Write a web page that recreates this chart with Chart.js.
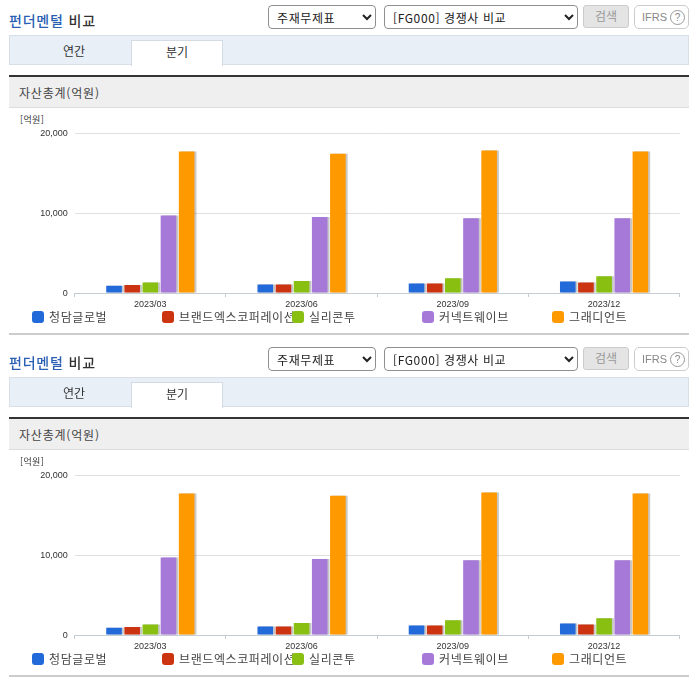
<!DOCTYPE html>
<html lang="ko">
<head>
<meta charset="utf-8">
<title>펀더멘털 비교</title>
<script src="https://cdn.jsdelivr.net/npm/chart.js@4"></script>
<style>
html, body { margin: 0; padding: 0; background: #fff; }
body { width: 696px; height: 684px; position: relative; overflow: hidden; font-family: "Noto Sans CJK KR", sans-serif; color: #333; }
.panel { position: absolute; left: 0; width: 696px; height: 342px; }
.panel > * { position: absolute; box-sizing: border-box; }
.title { left: 9px; top: 10px; font-size: 14px; line-height: 20px; font-weight: 500; color: #333; letter-spacing: 0.8px; }
.title b { font-weight: 500; color: #2b5fb3; }
select { top: 5px; height: 24px; background: #fff; border: 1px solid #8f8f8f; border-radius: 4px; font: 12px "Noto Sans CJK KR", sans-serif; color: #222; padding: 0 0 0 4px; letter-spacing: 0.6px; }
.s1 { left: 268px; width: 108px; }
.s2 { left: 384px; width: 194px; }
.btn { left: 583px; top: 5px; width: 46px; height: 23px; background: #e4e4e4; border: 1px solid #ccc; border-radius: 3px; font-size: 12px; line-height: 20px; text-align: center; color: #999; }
.ifrs { left: 634px; top: 5px; width: 55px; height: 24px; border: 1px solid #ccc; border-radius: 5px; font: 11px "Liberation Sans", sans-serif; color: #888; padding-left: 7px; white-space: nowrap; display: flex; align-items: center; gap: 3px; }
.ifrs i { display: block; width: 15px; height: 15px; line-height: 13px; border: 1px solid #999; border-radius: 50%; font-style: normal; text-align: center; box-sizing: border-box; font-size: 10px; }
.tabs { left: 9px; top: 35px; width: 680px; height: 30px; background: #e8eff7; border: 1px solid #d8dfe8; }
.tab { top: 40px; height: 26px; text-align: center; font-size: 12px; line-height: 22px; color: #333; }
.t1 { left: 9px; width: 130px; }
.t2 { left: 131px; width: 92px; background: #fff; border: 1px solid #d3dbe5; border-bottom: none; }
.head { left: 9px; top: 75px; width: 680px; height: 33px; background: #efefef; border-top: 2px solid #333; border-bottom: 1px solid #ddd; font-size: 12px; line-height: 31px; padding-left: 10px; color: #444; letter-spacing: 0.8px; }
.unit { left: 20px; top: 114px; font-size: 9px; line-height: 12px; color: #333; letter-spacing: 0.4px; }
canvas { left: 0; top: 110px; }
.legend { left: 32px; top: 308px; height: 18px; width: 660px; }
.item { position: absolute; top: 0; font-size: 12px; line-height: 18px; color: #444; white-space: nowrap; padding-left: 17px; letter-spacing: 0.6px; }
.item span { position: absolute; left: 0; top: 3px; width: 12px; height: 12px; border-radius: 3px; }
.foot { left: 9px; top: 333px; width: 680px; height: 2px; background: #ccc; }
</style>
</head>
<body>
<script>
const categories = ['2023/03', '2023/06', '2023/09', '2023/12']
const seriesNames = ['청담글로벌', '브랜드엑스코퍼레이션', '실리콘투', '커넥트웨이브', '그래디언트']
const seriesColors = ['#2269d9', '#cc3311', '#88bf11', '#a678d8', '#ff9900']
const cheongdam = [900, 1050, 1200, 1450]
const brandx = [1000, 1050, 1200, 1300]
const silicon2 = [1300, 1500, 1850, 2100]
const connectwave = [9700, 9500, 9350, 9350]
const gradient = [17700, 17400, 17800, 17700]
const seriesValues = [cheongdam, brandx, silicon2, connectwave, gradient]
const yTicks = [0, 10000, 20000]
const tickFont = '"Liberation Sans", sans-serif'

// grey edge on the right of every bar
const barShadow = {
    id: 'barShadow',
    beforeDatasetsDraw(chart) {
        const c = chart.ctx
        c.save()
        c.shadowColor = 'rgba(0,0,0,0.22)'
        c.shadowOffsetX = 2 * chart.currentDevicePixelRatio
        c.shadowOffsetY = 0
        c.shadowBlur = 0
    },
    afterDatasetsDraw(chart) {
        chart.ctx.restore()
    }
}

const makePanel = (top) => {
    const panel = document.createElement('div')
    panel.className = 'panel'
    panel.style.top = top + 'px'
    panel.innerHTML = `
        <div class="title"><b>펀더멘털</b> 비교</div>
        <select class="s1"><option>주재무제표</option></select>
        <select class="s2"><option>[FG000] 경쟁사 비교</option></select>
        <div class="btn">검색</div>
        <div class="ifrs">IFRS<i>?</i></div>
        <div class="tabs"></div>
        <div class="tab t1">연간</div>
        <div class="tab t2">분기</div>
        <div class="head">자산총계(억원)</div>
        <div class="unit">[억원]</div>
        <canvas width="696" height="200"></canvas>
        <div class="legend"></div>
        <div class="foot"></div>`
    document.body.appendChild(panel)

    const legend = panel.querySelector('.legend')
    seriesNames.forEach((name, i) => {
        const item = document.createElement('div')
        item.className = 'item'
        item.style.left = i * 130 + 'px'
        item.style.zIndex = i
        item.innerHTML = `<span style="background:${seriesColors[i]}"></span>${name}`
        legend.appendChild(item)
    })

    new Chart(panel.querySelector('canvas').getContext('2d'), {
        type: 'bar',
        data: {
            labels: categories,
            datasets: seriesNames.map((name, i) => ({
                label: name,
                data: seriesValues[i],
                backgroundColor: seriesColors[i],
                borderWidth: 0,
                categoryPercentage: 0.6,
                barPercentage: 0.86
            }))
        },
        plugins: [barShadow],
        options: {
            responsive: false,
            animation: false,
            layout: { padding: { top: 23, right: 16.3, left: 0, bottom: 0 } },
            plugins: { legend: { display: false }, tooltip: { enabled: false } },
            scales: {
                x: {
                    afterFit: (s) => { s.height = 17 },
                    grid: { drawOnChartArea: false, drawTicks: true, tickLength: 4, color: '#c4ccd4' },
                    border: { color: '#c4ccd4' },
                    ticks: { color: '#333', font: { size: 9, family: tickFont }, padding: 2, maxRotation: 0 }
                },
                y: {
                    min: 0,
                    max: 20000,
                    afterFit: (s) => { s.width = 74.7 },
                    afterBuildTicks: (s) => { s.ticks = yTicks.map(v => ({ value: v })) },
                    grid: { drawTicks: false, color: '#e0e0e0' },
                    border: { display: false },
                    ticks: {
                        color: '#333',
                        padding: 7,
                        labelOffset: 1,
                        font: { size: 9, family: tickFont },
                        callback: (v) => v.toLocaleString('en-US')
                    }
                }
            }
        }
    })
}

makePanel(0)
makePanel(342)
</script>
</body>
</html>
